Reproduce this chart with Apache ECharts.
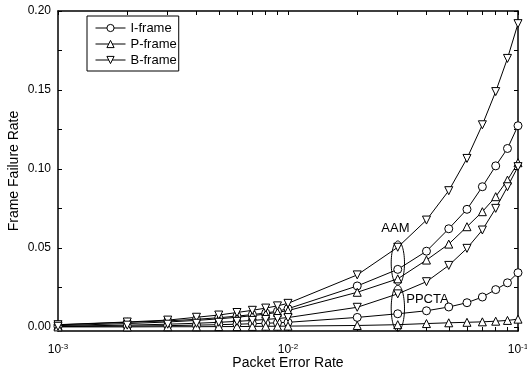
<!DOCTYPE html>
<html>
<head>
<meta charset="utf-8">
<script src="https://cdn.jsdelivr.net/npm/echarts@6/dist/echarts.min.js"></script>
<style>
  html, body { margin: 0; padding: 0; background: #fff; }
  #chart { width: 527px; height: 371px; }
</style>
</head>
<body>
<div id="chart"></div>
<script>
// Packet error rate (x) sample points
const packetErrorRate = [0.001, 0.002, 0.003, 0.004, 0.005, 0.006, 0.007, 0.008, 0.009, 0.01,
                         0.02, 0.03, 0.04, 0.05, 0.06, 0.07, 0.08, 0.09, 0.1];

// Frame failure rate, AAM scheme
const aamIFrame = [0.0014, 0.0030, 0.0039, 0.0049, 0.0059, 0.0069, 0.0079, 0.0089, 0.0100, 0.0116,
                   0.0260, 0.0365, 0.0480, 0.0622, 0.0745, 0.0888, 0.1020, 0.1130, 0.1274];
const aamPFrame = [0.0009, 0.0022, 0.0032, 0.0042, 0.0052, 0.0062, 0.0072, 0.0082, 0.0093, 0.0104,
                   0.0220, 0.0305, 0.0424, 0.0525, 0.0635, 0.0730, 0.0825, 0.0930, 0.1040];
const aamBFrame = [0.0015, 0.0032, 0.0044, 0.0062, 0.0076, 0.0092, 0.0106, 0.0120, 0.0134, 0.0150,
                   0.0330, 0.0505, 0.0677, 0.0863, 0.1067, 0.1280, 0.1490, 0.1700, 0.1920];

// Frame failure rate, PPCTA scheme
const ppctaIFrame = [0.0003, 0.0006, 0.0009, 0.0012, 0.0015, 0.0018, 0.0021, 0.0024, 0.0027, 0.0030,
                     0.0061, 0.0084, 0.0103, 0.0127, 0.0154, 0.0190, 0.0237, 0.0280, 0.0344];
const ppctaPFrame = [0.0001, 0.0001, 0.0002, 0.0002, 0.0003, 0.0003, 0.0004, 0.0005, 0.0005, 0.0006,
                     0.0010, 0.0015, 0.0022, 0.0027, 0.0030, 0.0033, 0.0037, 0.0042, 0.0050];
const ppctaBFrame = [0.0005, 0.0012, 0.0018, 0.0024, 0.0030, 0.0036, 0.0042, 0.0048, 0.0054, 0.0060,
                     0.0125, 0.0210, 0.0287, 0.0390, 0.0498, 0.0614, 0.0751, 0.0888, 0.1015];

// Axis ticks and labels
const xLabelValues = [0.001, 0.01, 0.1];
const xTickValues = [0.001, 0.002, 0.003, 0.004, 0.005, 0.006, 0.007, 0.008, 0.009,
                     0.01, 0.02, 0.03, 0.04, 0.05, 0.06, 0.07, 0.08, 0.09, 0.1];
const yLabelValues = [0, 0.05, 0.1, 0.15, 0.2];
const yTickValues = [0, 0.025, 0.05, 0.075, 0.1, 0.125, 0.15, 0.175, 0.2];

// Rings grouping the curves at PER = 0.03: [xLow, xHigh, yLow, yHigh]
const groupRings = [
  [0.0281, 0.0321, 0.0265, 0.0545],
  [0.0281, 0.0321, -0.0025, 0.0265]
];
// Scheme captions: [x, y, text]
const schemeCaptions = [
  [0.0293, 0.0624, 'AAM'],
  [0.0404, 0.0174, 'PPCTA']
];

const FONT = '"Liberation Sans", Arial, sans-serif';
const chart = echarts.init(document.getElementById('chart'), null, { renderer: 'canvas' });

function pairs(ys) { return packetErrorRate.map((x, i) => [x, ys[i]]); }

function curve(name, ys, symbol, rotate) {
  return {
    name: name,
    type: 'line',
    data: pairs(ys),
    symbol: symbol,
    symbolRotate: rotate || 0,
    symbolSize: 8,
    showAllSymbol: true,
    lineStyle: { color: '#000', width: 1 },
    itemStyle: { color: '#fff', borderColor: '#000', borderWidth: 1 },
    emphasis: { disabled: true },
    animation: false,
    z: 3
  };
}

function expLabel(v) {
  const e = Math.round(Math.log10(v));
  return '{b|10}{s|' + e + '}';
}

const axisLineStyle = { color: '#000', width: 1.5 };

const xCommon = {
  type: 'log',
  logBase: 10,
  min: 0.001,
  max: 0.1,
  axisLine: { show: true, onZero: false, lineStyle: axisLineStyle },
  axisTick: { show: true, inside: true, length: 4, customValues: xTickValues, lineStyle: { color: '#000', width: 1 } },
  splitLine: { show: false },
  minorTick: { show: false }
};
const yCommon = {
  type: 'value',
  min: -0.0025,
  max: 0.2,
  axisLine: { show: true, onZero: false, lineStyle: axisLineStyle },
  axisTick: { show: true, inside: true, length: 4, customValues: yTickValues, lineStyle: { color: '#000', width: 1 } },
  splitLine: { show: false }
};

const option = {
  backgroundColor: '#fff',
  animation: false,
  grid: { left: 58, right: 9, top: 11, bottom: 40, containLabel: false, outerBoundsMode: 'none' },
  legend: {
    data: ['I-frame', 'P-frame', 'B-frame'],
    orient: 'vertical',
    left: 87,
    top: 16,
    itemWidth: 30,
    itemHeight: 9,
    itemGap: 2,
    padding: [5, 2, 4, 8],
    borderColor: '#000',
    borderWidth: 1,
    selectedMode: false,
    lineStyle: { width: 1 },
    itemStyle: { borderWidth: 1 },
    textStyle: { fontFamily: FONT, fontSize: 13, color: '#000', lineHeight: 14 }
  },
  xAxis: [
    Object.assign({}, xCommon, {
      position: 'bottom',
      name: 'Packet Error Rate',
      nameLocation: 'middle',
      nameGap: 25,
      nameMoveOverlap: false,
      nameTextStyle: { fontFamily: FONT, fontSize: 14, color: '#000', verticalAlign: 'top' },
      axisLabel: {
        customValues: xLabelValues,
        margin: 12,
        formatter: expLabel,
        rich: {
          b: { fontFamily: FONT, fontSize: 12, color: '#000' },
          s: { fontFamily: FONT, fontSize: 8, color: '#000', verticalAlign: 'top', padding: [0, 0, 6, 0] }
        }
      }
    }),
    Object.assign({}, xCommon, { position: 'top', axisLabel: { show: false } })
  ],
  yAxis: [
    Object.assign({}, yCommon, {
      position: 'left',
      name: 'Frame Failure Rate',
      nameLocation: 'middle',
      nameRotate: 90,
      nameGap: 37,
      nameMoveOverlap: false,
      nameTextStyle: { fontFamily: FONT, fontSize: 14, color: '#000' },
      axisLabel: {
        customValues: yLabelValues,
        margin: 7,
        formatter: v => v.toFixed(2),
        fontFamily: FONT, fontSize: 12, color: '#000'
      }
    }),
    Object.assign({}, yCommon, { position: 'right', axisLabel: { show: false } })
  ],
  series: [
    curve('I-frame', aamIFrame, 'circle'),
    curve('P-frame', aamPFrame, 'triangle'),
    curve('B-frame', aamBFrame, 'triangle', 180),
    curve('I-frame', ppctaIFrame, 'circle'),
    curve('P-frame', ppctaPFrame, 'triangle'),
    curve('B-frame', ppctaBFrame, 'triangle', 180),
    {
      type: 'custom',
      name: 'rings',
      data: groupRings,
      encode: { x: [0, 1], y: [2, 3] },
      clip: false,
      silent: true,
      z: 4,
      renderItem: function (params, api) {
        const p0 = api.coord([api.value(0), api.value(2)]);
        const p1 = api.coord([api.value(1), api.value(3)]);
        const cx = (p0[0] + p1[0]) / 2, cy = (p0[1] + p1[1]) / 2;
        const rx = Math.abs(p1[0] - p0[0]) / 2, ry = Math.abs(p1[1] - p0[1]) / 2;
        const pts = [];
        for (let k = 0; k < 72; k++) {
          const t = k / 72 * Math.PI * 2;
          pts.push([cx + rx * Math.cos(t), cy + ry * Math.sin(t)]);
        }
        return { type: 'polygon', shape: { points: pts }, style: { fill: 'none', stroke: '#000', lineWidth: 1 } };
      }
    },
    {
      type: 'custom',
      name: 'captions',
      data: schemeCaptions,
      encode: { x: 0, y: 1 },
      clip: false,
      silent: true,
      z: 5,
      renderItem: function (params, api) {
        const p = api.coord([api.value(0), api.value(1)]);
        return {
          type: 'text',
          x: p[0], y: p[1],
          style: {
            text: schemeCaptions[params.dataIndex][2],
            fill: '#000',
            font: '13px ' + FONT,
            align: 'center',
            verticalAlign: 'middle'
          }
        };
      }
    }
  ]
};

chart.setOption(option);
</script>
</body>
</html>
